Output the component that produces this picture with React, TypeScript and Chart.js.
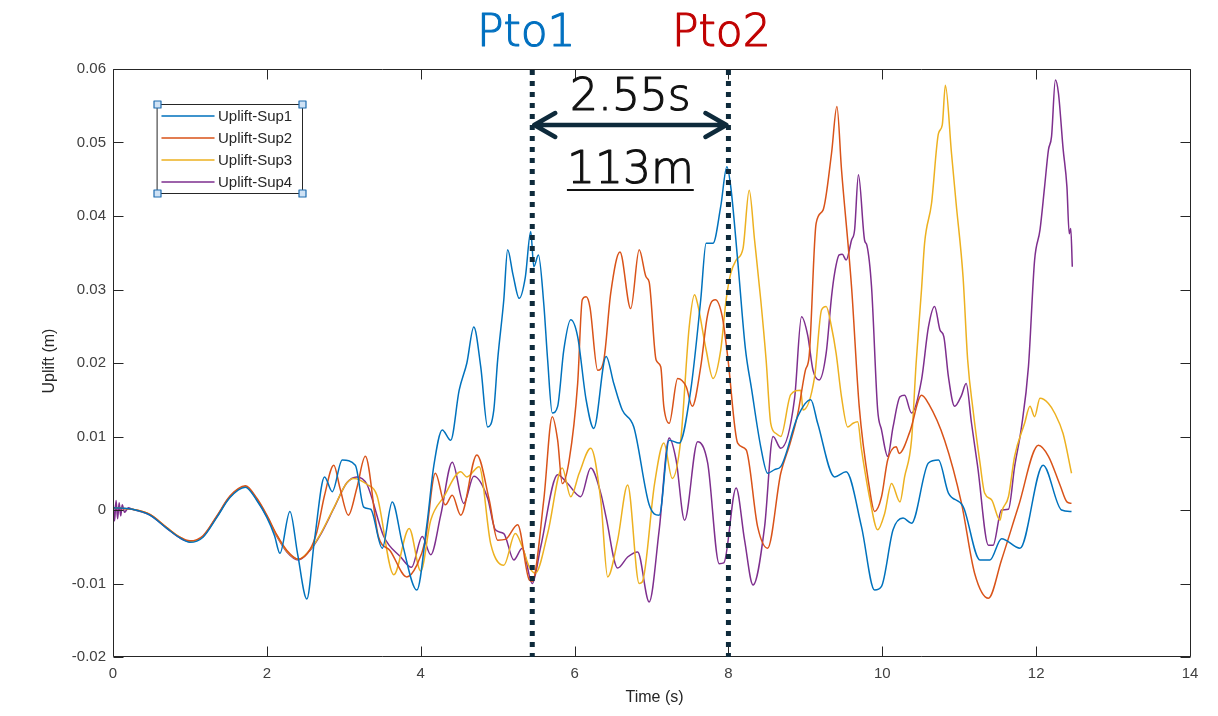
import React, { useEffect, useRef } from "react";
import { Chart, registerables } from "chart.js";

Chart.register(...registerables);

// ---------------- data ----------------
const sup1T = [0, 0.25, 0.48, 0.7, 0.87, 1.0, 1.17, 1.35, 1.52, 1.72,
  1.87, 2.0, 2.1, 2.17, 2.3, 2.4, 2.52, 2.62, 2.75, 2.85,
  2.98, 3.15, 3.26, 3.35, 3.5, 3.63, 3.76, 3.95, 4.08, 4.17,
  4.28, 4.39, 4.5, 4.6, 4.69, 4.78, 4.87, 4.95, 5.0, 5.08,
  5.13, 5.2, 5.28, 5.36, 5.43, 5.47, 5.53, 5.6, 5.65, 5.71,
  5.78, 5.86, 5.95, 6.04, 6.15, 6.25, 6.41, 6.51, 6.62, 6.77,
  6.97, 7.1, 7.23, 7.36, 7.51, 7.64, 7.71, 7.8, 7.9, 7.98,
  8.03, 8.12, 8.22, 8.3, 8.42, 8.51, 8.6, 8.68, 8.9, 9.07,
  9.16, 9.38, 9.53, 9.73, 9.9, 9.99, 10.14, 10.27, 10.38, 10.6,
  10.73, 10.86, 11.05, 11.27, 11.4, 11.55, 11.79, 12.09, 12.33, 12.46];
const sup1V = [0.0003, 0.0001, -0.0007, -0.0025, -0.0038, -0.0044, -0.0037, -0.001, 0.0017, 0.0031,
  0.0013, -0.001, -0.0035, -0.0059, -0.0002, -0.006, -0.0121, -0.004, 0.0045, 0.0025,
  0.0068, 0.0061, 0.0004, 0.0001, -0.0052, 0.0011, -0.0045, -0.0109, -0.002, 0.006,
  0.0109, 0.0095, 0.0163, 0.02, 0.0249, 0.0195, 0.0113, 0.0136, 0.0204, 0.0286,
  0.0354, 0.032, 0.0288, 0.0317, 0.0379, 0.0331, 0.0347, 0.028, 0.0204, 0.0132,
  0.0141, 0.0218, 0.0259, 0.0236, 0.015, 0.0111, 0.0209, 0.0172, 0.0136, 0.0113,
  0.0007, -0.0007, 0.0095, 0.0091, 0.0163, 0.0286, 0.0363, 0.0363, 0.0413, 0.0467,
  0.044, 0.034, 0.022, 0.0165, 0.0086, 0.005, 0.0055, 0.0059, 0.0127, 0.015,
  0.0118, 0.0045, 0.0052, -0.0023, -0.0109, -0.0104, -0.0027, -0.0011, -0.0018, 0.0064,
  0.0068, 0.0023, 0.0005, -0.0068, -0.0068, -0.0039, -0.0052, 0.0061, 0.0, -0.0002];

const sup2T = [0, 0.25, 0.48, 0.7, 0.87, 1.0, 1.17, 1.35, 1.52, 1.72,
  1.87, 2.0, 2.13, 2.26, 2.41, 2.56, 2.65, 2.75, 2.87, 2.95,
  3.06, 3.17, 3.28, 3.45, 3.6, 3.82, 3.95, 4.06, 4.19, 4.32,
  4.41, 4.52, 4.73, 4.89, 5.0, 5.1, 5.26, 5.41, 5.45, 5.6,
  5.71, 5.78, 5.84, 5.93, 6.04, 6.1, 6.15, 6.2, 6.3, 6.38,
  6.47, 6.59, 6.73, 6.84, 6.93, 6.97, 7.06, 7.12, 7.16, 7.23,
  7.34, 7.45, 7.53, 7.64, 7.72, 7.77, 7.83, 7.92, 7.99, 8.12,
  8.23, 8.38, 8.51, 8.68, 8.8, 8.9, 9.0, 9.05, 9.14, 9.23,
  9.34, 9.41, 9.47, 9.6, 9.7, 9.83, 9.9, 9.99, 10.07, 10.18,
  10.22, 10.36, 10.51, 10.6, 10.81, 11.03, 11.2, 11.38, 11.55, 11.77,
  12.03, 12.16, 12.31, 12.4, 12.46];
const sup2V = [0.0003, 0.0001, -0.0006, -0.0024, -0.0037, -0.0042, -0.0035, -0.0008, 0.0019, 0.0033,
  0.0016, -0.0007, -0.0034, -0.0055, -0.0067, -0.0054, -0.003, 0.002, 0.0061, 0.003,
  -0.0007, 0.003, 0.0073, -0.0036, -0.0055, -0.0091, -0.0075, -0.0041, 0.005, 0.0007,
  0.002, -0.0007, 0.0075, 0.0014, -0.0041, -0.004, -0.002, -0.0095, -0.0097, 0.0014,
  0.0127, 0.0095, 0.0036, 0.0068, 0.0172, 0.0286, 0.029, 0.0276, 0.019, 0.0204,
  0.0295, 0.0351, 0.0274, 0.0354, 0.0317, 0.031, 0.0204, 0.0195, 0.0141, 0.0118,
  0.0179, 0.0168, 0.0141, 0.0195, 0.026, 0.0281, 0.0286, 0.0263, 0.0209, 0.0091,
  0.0082, -0.0023, -0.0052, 0.005, 0.009, 0.013, 0.019, 0.021, 0.039, 0.0408,
  0.0485, 0.0549, 0.0463, 0.0304, 0.0141, 0.0032, -0.0002, 0.0018, 0.0068, 0.0086,
  0.0077, 0.0107, 0.0156, 0.0145, 0.0095, 0.0009, -0.0086, -0.012, -0.0068, 0.0005,
  0.0088, 0.0073, 0.0034, 0.0011, 0.0009];

const sup3T = [0, 0.25, 0.48, 0.7, 0.87, 1.0, 1.17, 1.35, 1.52, 1.72,
  1.87, 2.0, 2.13, 2.26, 2.41, 2.56, 2.7, 2.87, 3.04, 3.13,
  3.3, 3.43, 3.65, 3.85, 4.0, 4.13, 4.3, 4.52, 4.6, 4.76,
  4.91, 5.08, 5.23, 5.32, 5.41, 5.49, 5.65, 5.84, 5.95, 6.06,
  6.21, 6.34, 6.43, 6.56, 6.69, 6.84, 6.88, 7.04, 7.16, 7.27,
  7.38, 7.49, 7.56, 7.6, 7.71, 7.8, 7.9, 7.97, 8.03, 8.1,
  8.19, 8.27, 8.34, 8.42, 8.49, 8.55, 8.62, 8.68, 8.81, 8.94,
  8.97, 9.12, 9.21, 9.27, 9.34, 9.4, 9.47, 9.55, 9.62, 9.68,
  9.73, 9.84, 9.94, 10.03, 10.12, 10.23, 10.29, 10.38, 10.44, 10.51,
  10.55, 10.64, 10.73, 10.78, 10.82, 10.9, 10.96, 11.05, 11.11, 11.18,
  11.27, 11.33, 11.42, 11.53, 11.56, 11.64, 11.72, 11.85, 11.92, 11.98,
  12.05, 12.16, 12.24, 12.35, 12.46];
const sup3V = [0.0003, 0.0001, -0.0006, -0.0024, -0.0037, -0.0043, -0.0036, -0.0009, 0.0018, 0.0032,
  0.0015, -0.0008, -0.0035, -0.0056, -0.0067, -0.0054, -0.0032, 0.0003, 0.0037, 0.0043,
  0.0035, 0.002, -0.0088, -0.0025, -0.0083, -0.0014, 0.0018, 0.0052, 0.0045, 0.0059,
  -0.0046, -0.0075, -0.0032, -0.005, -0.0077, -0.0086, -0.0032, 0.0057, 0.0018, 0.005,
  0.0084, 0.0014, -0.0091, -0.0041, 0.0034, -0.01, -0.0098, 0.0036, 0.0091, 0.0043,
  0.0095, 0.0249, 0.0293, 0.028, 0.0218, 0.0179, 0.0218, 0.0286, 0.0322, 0.034,
  0.0356, 0.0435, 0.0367, 0.0286, 0.0204, 0.0118, 0.0104, 0.01, 0.0157, 0.0163,
  0.0136, 0.0181, 0.0272, 0.0277, 0.0249, 0.0213, 0.0154, 0.0113, 0.0118, 0.012,
  0.0082, 0.0014, -0.0027, -0.0005, 0.0036, 0.0011, 0.0045, 0.0095, 0.02, 0.03,
  0.0363, 0.0417, 0.0512, 0.0524, 0.0578, 0.0485, 0.0417, 0.0317, 0.0204, 0.0136,
  0.0064, 0.0023, 0.0014, -0.0014, 0.0, 0.0018, 0.0073, 0.0118, 0.0141, 0.0127,
  0.0152, 0.0145, 0.0132, 0.0104, 0.005];

const sup4T = [0, 0.02, 0.04, 0.06, 0.08, 0.1, 0.12, 0.15, 0.2, 0.25,
  0.48, 0.7, 0.87, 1.0, 1.17, 1.35, 1.52, 1.72, 1.87, 2.0,
  2.13, 2.26, 2.41, 2.56, 2.7, 2.87, 3.04, 3.17, 3.3, 3.52,
  3.74, 3.88, 4.02, 4.13, 4.26, 4.41, 4.56, 4.69, 4.87, 4.97,
  5.08, 5.21, 5.32, 5.45, 5.56, 5.78, 5.91, 6.08, 6.21, 6.34,
  6.41, 6.56, 6.69, 6.82, 6.97, 7.1, 7.23, 7.32, 7.43, 7.6,
  7.73, 7.88, 7.94, 8.1, 8.21, 8.32, 8.47, 8.58, 8.68, 8.86,
  8.95, 9.03, 9.1, 9.18, 9.27, 9.34, 9.38, 9.44, 9.48, 9.53,
  9.6, 9.64, 9.69, 9.77, 9.8, 9.86, 9.94, 9.99, 10.07, 10.14,
  10.23, 10.29, 10.38, 10.51, 10.6, 10.68, 10.75, 10.8, 10.86, 10.94,
  11.03, 11.09, 11.16, 11.24, 11.38, 11.44, 11.55, 11.64, 11.72, 11.81,
  11.9, 11.98, 12.05, 12.11, 12.16, 12.2, 12.25, 12.29, 12.35, 12.4,
  12.43, 12.45, 12.47];
const sup4V = [0.0015, -0.0015, 0.0013, -0.0012, 0.001, -0.0008, 0.0007, -0.0003, 0.0003, 0.0001,
  -0.0007, -0.0025, -0.0038, -0.0043, -0.0036, -0.0009, 0.0018, 0.0032, 0.0014, -0.0009,
  -0.0036, -0.0057, -0.0068, -0.0055, -0.0033, 0.0002, 0.0037, 0.0045, 0.0035, -0.0036,
  -0.0064, -0.0078, -0.0036, -0.0061, -0.0007, 0.0065, 0.0009, 0.0046, 0.0016, -0.0027,
  -0.0032, -0.0068, -0.0052, -0.01, -0.005, 0.0048, 0.0036, 0.0018, 0.0057, 0.0023,
  -0.001, -0.0079, -0.0064, -0.0057, -0.0125, -0.0027, 0.0098, 0.0068, -0.0014, 0.0093,
  0.0064, -0.0073, -0.0072, 0.003, -0.0041, -0.0102, -0.0023, 0.01, 0.0084, 0.0152,
  0.0263, 0.0238, 0.019, 0.0177, 0.0213, 0.029, 0.0322, 0.0347, 0.0348, 0.034,
  0.0367, 0.0381, 0.0456, 0.0367, 0.036, 0.0304, 0.0136, 0.0109, 0.0073, 0.0113,
  0.0154, 0.0156, 0.0132, 0.0177, 0.0249, 0.0277, 0.0245, 0.0236, 0.0181, 0.0141,
  0.0156, 0.0172, 0.0118, 0.0059, -0.0048, -0.0048, 0.0, 0.0001, 0.0059, 0.0113,
  0.0195, 0.034, 0.0381, 0.044, 0.049, 0.0508, 0.0585, 0.0567, 0.0492, 0.044,
  0.0376, 0.0383, 0.0331];

const SERIES_LABELS = ["Uplift-Sup1", "Uplift-Sup2", "Uplift-Sup3", "Uplift-Sup4"];
const SERIES_COLORS = ["#0072BD", "#D95319", "#EDB120", "#7E2F8E"];
const X_TICKS = [0, 2, 4, 6, 8, 10, 12, 14];
const Y_TICKS = [-0.02, -0.01, 0, 0.01, 0.02, 0.03, 0.04, 0.05, 0.06];
const X_TITLE = "Time (s)";
const Y_TITLE = "Uplift (m)";
const MARKER_TIMES = [5.45, 8.0];
const MARKER_LABELS = ["Pto1", "Pto2"];
const MARKER_COLORS = ["#0070C0", "#C00000"];
const SPAN_LABEL = "2.55s";
const DIST_LABEL = "113m";

const AX = "#262626";
const NAVY = "#0E2A3B";
const TICK_FONT = "15px 'Liberation Sans', Arial, sans-serif";
const ANNOT_FONT = "200 44px 'DejaVu Sans', sans-serif";

function boldText(ctx: any, text: string, x: number, y: number, color: string) {
  ctx.fillStyle = color;
  ctx.strokeStyle = color;
  ctx.lineWidth = 1.1;
  ctx.lineJoin = "round";
  ctx.fillText(text, x, y);
  ctx.strokeText(text, x, y);
}

const overlayPlugin = {
  id: "matlabOverlay",
  afterDatasetsDraw(chart: any) {
    const { ctx, chartArea: a, scales } = chart;
    const xs = scales.x;
    const ys = scales.y;
    const L = Math.round(a.left) + 0.5;
    const R = Math.round(a.right) + 0.5;
    const T = Math.round(a.top) + 0.5;
    const B = Math.round(a.bottom) - 0.5;
    ctx.save();
    // axes box
    ctx.strokeStyle = AX;
    ctx.lineWidth = 1;
    ctx.beginPath();
    ctx.rect(L, T, R - L, B - T);
    ctx.stroke();
    // inward ticks
    ctx.beginPath();
    X_TICKS.forEach((v) => {
      const px = Math.round(xs.getPixelForValue(v)) + 0.5;
      ctx.moveTo(px, B);
      ctx.lineTo(px, B - 10);
      ctx.moveTo(px, T);
      ctx.lineTo(px, T + 10);
    });
    Y_TICKS.forEach((v) => {
      const py = Math.round(ys.getPixelForValue(v)) + 0.5;
      ctx.moveTo(L, py);
      ctx.lineTo(L + 10, py);
      ctx.moveTo(R, py);
      ctx.lineTo(R - 10, py);
    });
    ctx.stroke();

    // dotted marker lines
    const mx = MARKER_TIMES.map((t) => xs.getPixelForValue(t));
    ctx.strokeStyle = NAVY;
    ctx.lineWidth = 5;
    ctx.setLineDash([5, 6]);
    mx.forEach((px) => {
      ctx.beginPath();
      ctx.moveTo(px, a.top + 1);
      ctx.lineTo(px, a.bottom);
      ctx.stroke();
    });
    ctx.setLineDash([]);

    // double arrow
    const ay = 125;
    const x1 = mx[0] + 2;
    const x2 = mx[1] - 2;
    ctx.lineWidth = 4.5;
    ctx.lineCap = "round";
    ctx.lineJoin = "round";
    ctx.beginPath();
    ctx.moveTo(x1, ay);
    ctx.lineTo(x2, ay);
    ctx.moveTo(x1 + 21, ay - 12);
    ctx.lineTo(x1, ay);
    ctx.lineTo(x1 + 21, ay + 12);
    ctx.moveTo(x2 - 21, ay - 12);
    ctx.lineTo(x2, ay);
    ctx.lineTo(x2 - 21, ay + 12);
    ctx.stroke();

    // annotation texts
    const cx = (mx[0] + mx[1]) / 2;
    ctx.font = ANNOT_FONT;
    ctx.textAlign = "center";
    ctx.textBaseline = "alphabetic";
    boldText(ctx, SPAN_LABEL, cx, 110, "#111111");
    boldText(ctx, DIST_LABEL, cx, 183, "#111111");
    const w = ctx.measureText(DIST_LABEL).width;
    ctx.fillStyle = "#111111";
    ctx.fillRect(cx - w / 2, 189, w, 2);
    MARKER_LABELS.forEach((lab, i) => {
      boldText(ctx, lab, mx[i] - 6 + (i === 1 ? -1 : 0), 46, MARKER_COLORS[i]);
    });

    // legend
    const lx0 = 157.5, ly0 = 104.5, lx1 = 302.5, ly1 = 193.5;
    ctx.fillStyle = "#ffffff";
    ctx.fillRect(lx0, ly0, lx1 - lx0, ly1 - ly0);
    ctx.strokeStyle = AX;
    ctx.lineWidth = 1;
    ctx.strokeRect(lx0, ly0, lx1 - lx0, ly1 - ly0);
    ctx.font = TICK_FONT;
    ctx.textAlign = "left";
    ctx.textBaseline = "middle";
    chart.data.datasets.forEach((ds: any, i: number) => {
      const ry = 116 + i * 22;
      ctx.strokeStyle = ds.borderColor;
      ctx.lineWidth = 1.5;
      ctx.beginPath();
      ctx.moveTo(162, ry);
      ctx.lineTo(214, ry);
      ctx.stroke();
      ctx.fillStyle = AX;
      ctx.fillText(ds.label, 218, ry + 1);
    });
    [[lx0, ly0], [lx1, ly0], [lx0, ly1], [lx1, ly1]].forEach(([hx, hy]) => {
      ctx.fillStyle = "#CFE2F5";
      ctx.fillRect(hx - 3.5, hy - 3.5, 7, 7);
      ctx.strokeStyle = "#1F6CB0";
      ctx.lineWidth = 1.2;
      ctx.strokeRect(hx - 3.5, hy - 3.5, 7, 7);
    });

    // axis titles
    ctx.fillStyle = AX;
    ctx.font = "16px 'Liberation Sans', Arial, sans-serif";
    ctx.textAlign = "center";
    ctx.textBaseline = "middle";
    ctx.fillText(X_TITLE, (a.left + a.right) / 2 + 3, 698);
    ctx.save();
    ctx.translate(50, 361);
    ctx.rotate(-Math.PI / 2);
    ctx.fillText(Y_TITLE, 0, 0);
    ctx.restore();

    ctx.restore();
  },
};

function toPoints(ts: number[], vs: number[]) {
  return ts.map((t, i) => ({ x: t, y: vs[i] }));
}

export default function App() {
  const ref = useRef<HTMLCanvasElement | null>(null);
  useEffect(() => {
    if (!ref.current) return;
    const seriesT = [sup1T, sup2T, sup3T, sup4T];
    const seriesV = [sup1V, sup2V, sup3V, sup4V];
    const chart = new Chart(ref.current, {
      type: "line",
      data: {
        datasets: SERIES_LABELS.map((label, i) => ({
          label,
          data: toPoints(seriesT[i], seriesV[i]),
          borderColor: SERIES_COLORS[i],
          backgroundColor: SERIES_COLORS[i],
          borderWidth: 1.5,
          pointRadius: 0,
          fill: false,
          cubicInterpolationMode: "monotone" as const,
        })),
      },
      options: {
        responsive: false,
        animation: false,
        devicePixelRatio: 1,
        parsing: false as any,
        layout: { padding: { left: 0, right: 28, top: 69, bottom: 0 } },
        plugins: {
          legend: { display: false },
          tooltip: { enabled: false },
          title: { display: false },
        },
        scales: {
          x: {
            type: "linear",
            min: 0,
            max: 14,
            afterBuildTicks: (s: any) => {
              s.ticks = X_TICKS.map((v) => ({ value: v }));
            },
            afterFit: (s: any) => {
              s.height = 59;
            },
            grid: { display: false, drawTicks: false },
            border: { display: false },
            ticks: {
              color: "#404040",
              font: { family: "'Liberation Sans', Arial, sans-serif", size: 15 },
              padding: 8,
              maxRotation: 0,
              callback: (v: any) => String(v),
            },
          },
          y: {
            type: "linear",
            min: -0.02,
            max: 0.06,
            afterBuildTicks: (s: any) => {
              s.ticks = Y_TICKS.map((v) => ({ value: v }));
            },
            afterFit: (s: any) => {
              s.width = 113;
            },
            grid: { display: false, drawTicks: false },
            border: { display: false },
            ticks: {
              color: "#404040",
              font: { family: "'Liberation Sans', Arial, sans-serif", size: 15 },
              padding: 7,
              callback: (v: any) => String(parseFloat(Number(v).toFixed(2))),
            },
          },
        },
      },
      plugins: [overlayPlugin],
    } as any);
    return () => chart.destroy();
  }, []);
  return (
    <div style={{ position: "fixed", left: 0, top: 0, width: 1218, height: 716, background: "#fff" }}>
      <canvas ref={ref} width={1218} height={716} style={{ display: "block" }} />
    </div>
  );
}
